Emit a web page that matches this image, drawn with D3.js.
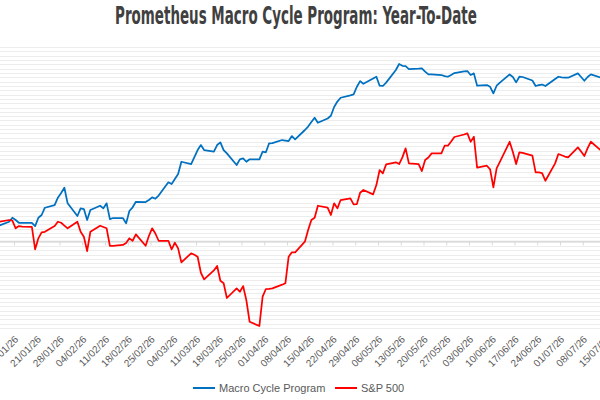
<!DOCTYPE html>
<html>
<head>
<meta charset="utf-8">
<script src="https://cdn.jsdelivr.net/npm/d3@7"></script>
<style>
body { margin: 0; background: #fff; overflow: hidden; }
svg { display: block; }
</style>
</head>
<body>
<div id="chart"></div>
<script>
// trading days shown (dd/mm/yy)
var dates = [
  "09/01/26","12/01/26","13/01/26","14/01/26","15/01/26","16/01/26","19/01/26","20/01/26","21/01/26","22/01/26","23/01/26",
  "26/01/26","27/01/26","28/01/26","29/01/26","30/01/26","02/02/26","03/02/26","04/02/26","05/02/26","06/02/26",
  "09/02/26","10/02/26","11/02/26","12/02/26","13/02/26","16/02/26","17/02/26","18/02/26","19/02/26","20/02/26",
  "23/02/26","24/02/26","25/02/26","26/02/26","27/02/26","02/03/26","03/03/26","04/03/26","05/03/26","06/03/26",
  "09/03/26","10/03/26","11/03/26","12/03/26","13/03/26","16/03/26","17/03/26","18/03/26","19/03/26","20/03/26",
  "23/03/26","24/03/26","25/03/26","26/03/26","27/03/26","30/03/26","31/03/26","01/04/26","02/04/26","03/04/26",
  "06/04/26","07/04/26","08/04/26","09/04/26","10/04/26","13/04/26","14/04/26","15/04/26","16/04/26","17/04/26",
  "20/04/26","21/04/26","22/04/26","23/04/26","24/04/26","27/04/26","28/04/26","29/04/26","30/04/26","01/05/26",
  "04/05/26","05/05/26","06/05/26","07/05/26","08/05/26","11/05/26","12/05/26","13/05/26","14/05/26","15/05/26",
  "18/05/26","19/05/26","20/05/26","21/05/26","22/05/26","25/05/26","26/05/26","27/05/26","28/05/26","29/05/26",
  "01/06/26","02/06/26","03/06/26","04/06/26","05/06/26","08/06/26","09/06/26","10/06/26","11/06/26","12/06/26",
  "15/06/26","16/06/26","17/06/26","18/06/26","19/06/26","22/06/26","23/06/26","24/06/26","25/06/26","26/06/26",
  "29/06/26","30/06/26","01/07/26","02/07/26","03/07/26","06/07/26","07/07/26","08/07/26","09/07/26","10/07/26",
  "13/07/26"
];

// YTD return, %
var macro_values = [
  1.85,2.29,2.75,2.49,2.17,2.17,2.17,1.79,2.75,3.07,3.91,
  4.22,5.07,5.61,6.22,4.42,2.95,3.84,3.76,2.49,3.64,
  4.14,3.84,4.42,2.60,2.72,2.72,2.10,3.53,3.96,4.60,
  4.57,4.80,5.11,4.95,5.32,6.85,6.65,7.23,7.81,9.23,
  8.96,9.77,10.58,11.16,10.58,10.39,11.16,11.47,10.58,10.19,
  8.85,9.51,9.62,9.23,9.51,9.51,10.39,10.32,11.36,11.39,
  11.74,11.68,11.62,12.20,11.82,12.90,13.30,13.82,14.32,13.74,
  14.23,14.55,15.56,16.19,16.63,16.91,17.03,17.90,18.56,18.25,
  18.85,19.06,18.02,17.99,18.38,19.84,20.53,20.33,20.30,19.95,
  19.99,20.03,19.66,19.34,19.32,19.26,19.14,19.06,19.26,19.49,
  19.67,19.72,19.26,19.45,18.02,18.10,17.90,17.14,18.02,18.38,
  19.32,19.03,18.41,19.06,19.03,18.62,17.99,18.10,18.16,17.99,
  18.80,19.06,19.00,18.95,18.95,19.45,19.03,18.60,19.03,19.34,
  18.97
];

var spx_values = [
  2.28,2.49,2.41,1.53,1.79,1.73,1.71,-0.90,0.37,1.06,1.13,
  1.79,2.29,2.17,1.85,1.53,2.29,1.13,0.56,-1.10,1.13,
  1.83,1.68,1.53,-0.49,-0.49,-0.40,-0.17,0.37,0.09,0.83,
  -0.49,0.64,1.53,0.93,0.09,0.09,-0.90,-0.14,-0.79,-2.41,
  -1.36,-1.53,-1.76,-3.61,-4.37,-3.34,-2.83,-4.53,-4.83,-6.53,
  -5.41,-5.81,-5.15,-6.80,-9.28,-9.77,-6.38,-5.49,-5.47,-5.42,
  -4.99,-4.83,-1.76,-1.25,-1.25,-0.02,1.33,2.49,2.75,4.14,
  3.91,3.07,4.42,3.84,4.80,5.00,4.30,4.34,5.64,5.96,
  5.46,6.53,8.27,7.89,8.93,9.16,8.96,9.73,10.78,9.04,
  8.96,8.15,9.43,9.72,10.20,10.20,11.08,11.08,11.57,12.09,
  12.38,12.51,11.54,12.12,8.54,8.77,8.35,6.27,8.47,9.21,
  11.54,10.35,8.96,10.32,10.26,9.94,8.00,8.00,7.92,7.03,
  9.04,10.12,9.98,9.83,9.74,10.89,10.41,9.89,10.81,11.54,
  10.58
];

var series_names = ["Macro Cycle Program", "S&P 500"];
var series_colors = ["#0070C0", "#FF0000"];
var first_tick = "14/01/26", last_tick = "15/07/26";

var width = 600, height = 400;
var parse = d3.timeParse("%d/%m/%y"),
    fmt = d3.timeFormat("%d/%m/%y");

var x = d3.scaleTime()
    .domain([parse(first_tick), parse(last_tick)])
    .range([14, 605.5]);
var y = d3.scaleLinear()
    .domain([-10, 22.5])
    .range([328, 47]);

// points sit in the middle of their day, like Excel's date axis
var half_day = (x(d3.timeDay.offset(parse(first_tick), 1)) - x(parse(first_tick))) / 2;

var svg = d3.select("#chart")
    .append("svg")
    .attr("width", width)
    .attr("height", height);

// condensed title: squeeze a narrow font to the reference width
var title = svg.append("text")
    .attr("text-anchor", "middle")
    .style("font-family", "'Liberation Sans Narrow', 'DejaVu Sans Condensed', sans-serif")
    .style("font-weight", "bold")
    .style("font-size", "24px")
    .style("fill", "#404040")
    .text("Prometheus Macro Cycle Program: Year-To-Date");
var title_w = title.node().getComputedTextLength() || 362;
title.attr("transform", "translate(296,24) scale(" + Math.min(1, 362 / title_w) + ",1)");

// horizontal gridlines
svg.append("g")
    .attr("class", "grid")
    .selectAll("line")
    .data(d3.range(-10, 22.51, 0.5))
    .enter()
    .append("line")
    .attr("x1", 0)
    .attr("x2", width)
    .attr("y1", function(d) { return Math.round(y(d)) + 0.5; })
    .attr("y2", function(d) { return Math.round(y(d)) + 0.5; })
    .style("stroke", "#ededed")
    .style("stroke-width", 1);

var ticks = d3.timeWednesday.range(parse(first_tick), d3.timeDay.offset(parse(last_tick), 1));

// zero axis line with week ticks
var xAxis = svg.append("g")
    .attr("transform", "translate(0," + y(0) + ")")
    .call(d3.axisBottom(x).tickValues(ticks).tickSize(4).tickSizeOuter(0).tickFormat(""));
xAxis.select(".domain").attr("d", "M0,0H" + width).style("stroke", "#d9d9d9").style("stroke-width", 1.5);
xAxis.selectAll(".tick line").style("stroke", "#d9d9d9");

// labels at the bottom of the plot
svg.append("g")
    .selectAll("text")
    .data(ticks)
    .enter()
    .append("text")
    .attr("text-anchor", "end")
    .attr("transform", function(d) { return "translate(" + (x(d) + 5) + ",340) rotate(-45)"; })
    .style("font-family", "'Liberation Sans', Arial, sans-serif")
    .style("font-size", "10px")
    .style("fill", "#595959")
    .text(function(d) { return fmt(d); });

var rows = dates.map(function(d, i) {
    return {date: parse(d), macro: macro_values[i], spx: spx_values[i]};
});

var keys = ["macro", "spx"];
keys.forEach(function(k, i) {
    var line = d3.line()
        .x(function(d) { return x(d.date) + half_day; })
        .y(function(d) { return y(d[k]); });
    svg.append("path")
        .datum(rows)
        .attr("d", line)
        .style("fill", "none")
        .style("stroke", series_colors[i])
        .style("stroke-width", 1.75)
        .style("stroke-linejoin", "round");
});

// legend
var legend_x = [193, 335];
var legend = svg.append("g")
    .selectAll("g")
    .data(series_names)
    .enter()
    .append("g")
    .attr("transform", function(d, i) { return "translate(" + legend_x[i] + ",388)"; });
legend.append("line")
    .attr("x1", 0).attr("x2", 22)
    .style("stroke", function(d, i) { return series_colors[i]; })
    .style("stroke-width", 2);
legend.append("text")
    .attr("x", 26)
    .attr("dy", "0.35em")
    .style("font-family", "'Liberation Sans', Arial, sans-serif")
    .style("font-size", "11px")
    .style("fill", "#595959")
    .text(function(d) { return d; });
</script>
</body>
</html>
